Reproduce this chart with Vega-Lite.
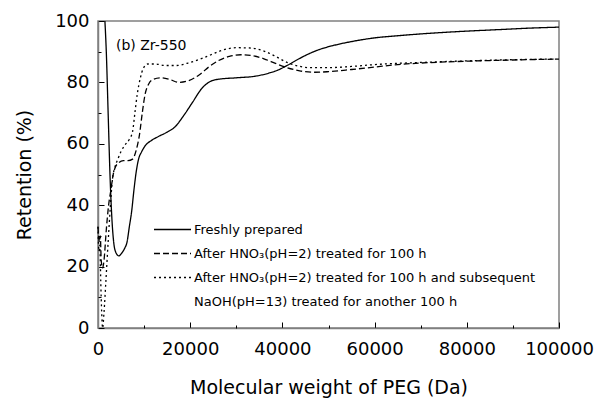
{
  "$schema": "https://vega.github.io/schema/vega-lite/v6.json",
  "width": 461,
  "height": 307,
  "autosize": {"type": "none"},
  "padding": {"left": 98, "top": 21, "right": 36, "bottom": 70},
  "background": "white",
  "config": {
    "font": "DejaVu Sans",
    "view": {"stroke": "#808080", "strokeWidth": 1.5},
    "axis": {"grid": false, "domainColor": "#808080", "domainWidth": 1.5, "tickColor": "black", "labelColor": "black", "titleColor": "black", "titleFontWeight": "normal", "labelOverlap": false, "labelFlush": false, "labelBound": false}
  },
  "title": {"text": "(b) Zr-550", "anchor": "start", "frame": "group", "orient": "top", "offset": -41, "dx": 18, "fontSize": 14, "fontWeight": "normal", "color": "black"},
  "data": {"values": [
    {"s": "a", "x": 1500, "y": 100},
    {"s": "a", "x": 1800, "y": 90},
    {"s": "a", "x": 2200, "y": 70},
    {"s": "a", "x": 2600, "y": 50},
    {"s": "a", "x": 3000, "y": 36},
    {"s": "a", "x": 3400, "y": 28},
    {"s": "a", "x": 3900, "y": 24.5},
    {"s": "a", "x": 4500, "y": 23.5},
    {"s": "a", "x": 5200, "y": 24.5},
    {"s": "a", "x": 5800, "y": 26},
    {"s": "a", "x": 6300, "y": 28},
    {"s": "a", "x": 6800, "y": 33},
    {"s": "a", "x": 7300, "y": 38},
    {"s": "a", "x": 7800, "y": 45},
    {"s": "a", "x": 8300, "y": 51},
    {"s": "a", "x": 8800, "y": 55},
    {"s": "a", "x": 9500, "y": 57.5},
    {"s": "a", "x": 10200, "y": 59.3},
    {"s": "a", "x": 11500, "y": 61},
    {"s": "a", "x": 13000, "y": 62.3},
    {"s": "a", "x": 15000, "y": 63.8},
    {"s": "a", "x": 16700, "y": 65.5},
    {"s": "a", "x": 18500, "y": 69},
    {"s": "a", "x": 20500, "y": 73.5},
    {"s": "a", "x": 22500, "y": 78},
    {"s": "a", "x": 24000, "y": 80},
    {"s": "a", "x": 26000, "y": 81},
    {"s": "a", "x": 30000, "y": 81.5},
    {"s": "a", "x": 34000, "y": 82},
    {"s": "a", "x": 37000, "y": 83},
    {"s": "a", "x": 39000, "y": 84},
    {"s": "a", "x": 41000, "y": 85.5},
    {"s": "a", "x": 43000, "y": 87.2},
    {"s": "a", "x": 45300, "y": 89},
    {"s": "a", "x": 48000, "y": 90.7},
    {"s": "a", "x": 51000, "y": 92},
    {"s": "a", "x": 55000, "y": 93.3},
    {"s": "a", "x": 60000, "y": 94.5},
    {"s": "a", "x": 65000, "y": 95.2},
    {"s": "a", "x": 72000, "y": 96},
    {"s": "a", "x": 80000, "y": 96.7},
    {"s": "a", "x": 87000, "y": 97.2},
    {"s": "a", "x": 94000, "y": 97.7},
    {"s": "a", "x": 100000, "y": 98},
    {"s": "b", "x": 0, "y": 33},
    {"s": "b", "x": 300, "y": 28},
    {"s": "b", "x": 500, "y": 30},
    {"s": "b", "x": 700, "y": 22},
    {"s": "b", "x": 1000, "y": 19.5},
    {"s": "b", "x": 1300, "y": 22},
    {"s": "b", "x": 1800, "y": 32},
    {"s": "b", "x": 2300, "y": 40},
    {"s": "b", "x": 2800, "y": 45},
    {"s": "b", "x": 3300, "y": 50},
    {"s": "b", "x": 3800, "y": 52.5},
    {"s": "b", "x": 4500, "y": 53.8},
    {"s": "b", "x": 5500, "y": 54.5},
    {"s": "b", "x": 6500, "y": 54.5},
    {"s": "b", "x": 7500, "y": 55},
    {"s": "b", "x": 8300, "y": 58},
    {"s": "b", "x": 9000, "y": 63},
    {"s": "b", "x": 9600, "y": 70},
    {"s": "b", "x": 10200, "y": 76},
    {"s": "b", "x": 11000, "y": 79.5},
    {"s": "b", "x": 12000, "y": 81},
    {"s": "b", "x": 13500, "y": 81.5},
    {"s": "b", "x": 15500, "y": 81},
    {"s": "b", "x": 17500, "y": 80},
    {"s": "b", "x": 19500, "y": 80.5},
    {"s": "b", "x": 22000, "y": 82.5},
    {"s": "b", "x": 24000, "y": 85},
    {"s": "b", "x": 26000, "y": 87},
    {"s": "b", "x": 28500, "y": 88.5},
    {"s": "b", "x": 31000, "y": 89},
    {"s": "b", "x": 33500, "y": 88.7},
    {"s": "b", "x": 36000, "y": 87.7},
    {"s": "b", "x": 38500, "y": 86.2},
    {"s": "b", "x": 41000, "y": 84.8},
    {"s": "b", "x": 44000, "y": 83.7},
    {"s": "b", "x": 47000, "y": 83.3},
    {"s": "b", "x": 50000, "y": 83.5},
    {"s": "b", "x": 55000, "y": 84.2},
    {"s": "b", "x": 60000, "y": 85},
    {"s": "b", "x": 65000, "y": 85.8},
    {"s": "b", "x": 70000, "y": 86.3},
    {"s": "b", "x": 80000, "y": 86.9},
    {"s": "b", "x": 90000, "y": 87.3},
    {"s": "b", "x": 100000, "y": 87.6},
    {"s": "c", "x": 0, "y": 33},
    {"s": "c", "x": 200, "y": 25},
    {"s": "c", "x": 400, "y": 27},
    {"s": "c", "x": 600, "y": 15},
    {"s": "c", "x": 800, "y": 5},
    {"s": "c", "x": 1000, "y": 0},
    {"s": "c", "x": 1300, "y": 5},
    {"s": "c", "x": 1700, "y": 15},
    {"s": "c", "x": 2200, "y": 28},
    {"s": "c", "x": 2700, "y": 40},
    {"s": "c", "x": 3100, "y": 48},
    {"s": "c", "x": 3700, "y": 52.5},
    {"s": "c", "x": 4300, "y": 55},
    {"s": "c", "x": 5000, "y": 57.5},
    {"s": "c", "x": 5800, "y": 59.5},
    {"s": "c", "x": 6800, "y": 61.5},
    {"s": "c", "x": 7500, "y": 64},
    {"s": "c", "x": 8000, "y": 70},
    {"s": "c", "x": 8500, "y": 76},
    {"s": "c", "x": 9200, "y": 81.5},
    {"s": "c", "x": 9800, "y": 84.5},
    {"s": "c", "x": 10800, "y": 86},
    {"s": "c", "x": 12500, "y": 86},
    {"s": "c", "x": 14500, "y": 85.5},
    {"s": "c", "x": 17000, "y": 85.5},
    {"s": "c", "x": 19500, "y": 86.3},
    {"s": "c", "x": 22000, "y": 87.5},
    {"s": "c", "x": 24500, "y": 89},
    {"s": "c", "x": 27000, "y": 90.5},
    {"s": "c", "x": 30000, "y": 91.3},
    {"s": "c", "x": 33000, "y": 91.2},
    {"s": "c", "x": 36000, "y": 90.2},
    {"s": "c", "x": 38500, "y": 88.5},
    {"s": "c", "x": 41000, "y": 86.5},
    {"s": "c", "x": 43500, "y": 85.3},
    {"s": "c", "x": 46000, "y": 84.8},
    {"s": "c", "x": 50000, "y": 84.8},
    {"s": "c", "x": 55000, "y": 85.2},
    {"s": "c", "x": 60000, "y": 85.8},
    {"s": "c", "x": 70000, "y": 86.5},
    {"s": "c", "x": 80000, "y": 87},
    {"s": "c", "x": 90000, "y": 87.4},
    {"s": "c", "x": 100000, "y": 87.6}
  ]},
  "resolve": {"axis": {"x": "independent", "y": "independent"}},
  "layer": [
    {
      "mark": {"type": "line", "interpolate": "monotone", "strokeWidth": 1.3, "color": "black"},
      "encoding": {
        "x": {"field": "x", "type": "quantitative", "scale": {"domain": [0, 100000], "nice": false},
          "axis": {"orient": "bottom", "title": "Molecular weight of PEG (Da)", "values": [0, 20000, 40000, 60000, 80000, 100000], "format": "d", "tickSize": -6, "labelPadding": 18, "labelFontSize": 18, "titleFontSize": 19, "titlePadding": 20}},
        "y": {"field": "y", "type": "quantitative", "scale": {"domain": [0, 100], "nice": false},
          "axis": {"orient": "left", "title": "Retention (%)", "values": [0, 20, 40, 60, 80, 100], "tickSize": -6, "labelPadding": 15, "labelFontSize": 18, "titleFontSize": 19, "titlePadding": 20}},
        "detail": {"field": "s"},
        "strokeDash": {"field": "s", "type": "nominal",
          "scale": {"domain": ["a", "b", "c", "d"], "range": [[1, 0], [6, 3], [2, 3], [0, 1000]]},
          "legend": {"title": null, "orient": "none", "legendX": 68, "legendY": 202, "padding": 0, "symbolType": "M-3.7,0H3.7", "symbolSize": 100, "symbolStrokeColor": "black", "symbolStrokeWidth": 1.3, "symbolFillColor": "transparent", "labelFontSize": 13, "labelColor": "black", "rowPadding": 10, "labelOffset": 15, "labelLimit": 400,
            "labelExpr": "datum.value == 'a' ? 'Freshly prepared' : datum.value == 'b' ? 'After HNO₃(pH=2) treated for 100 h' : datum.value == 'c' ? 'After HNO₃(pH=2) treated for 100 h and subsequent' : 'NaOH(pH=13) treated for another 100 h'"}}
      }
    },
    {
      "mark": {"type": "line", "opacity": 0},
      "encoding": {
        "x": {"field": "x", "type": "quantitative", "scale": {"domain": [0, 100000], "nice": false},
          "axis": {"orient": "bottom", "title": null, "labels": false, "domain": false, "values": [10000, 30000, 50000, 70000, 90000], "tickSize": -3}},
        "y": {"field": "y", "type": "quantitative", "scale": {"domain": [0, 100], "nice": false},
          "axis": {"orient": "left", "title": null, "labels": false, "domain": false, "values": [10, 30, 50, 70, 90], "tickSize": -3}},
        "detail": {"field": "s"}
      }
    }
  ]
}
